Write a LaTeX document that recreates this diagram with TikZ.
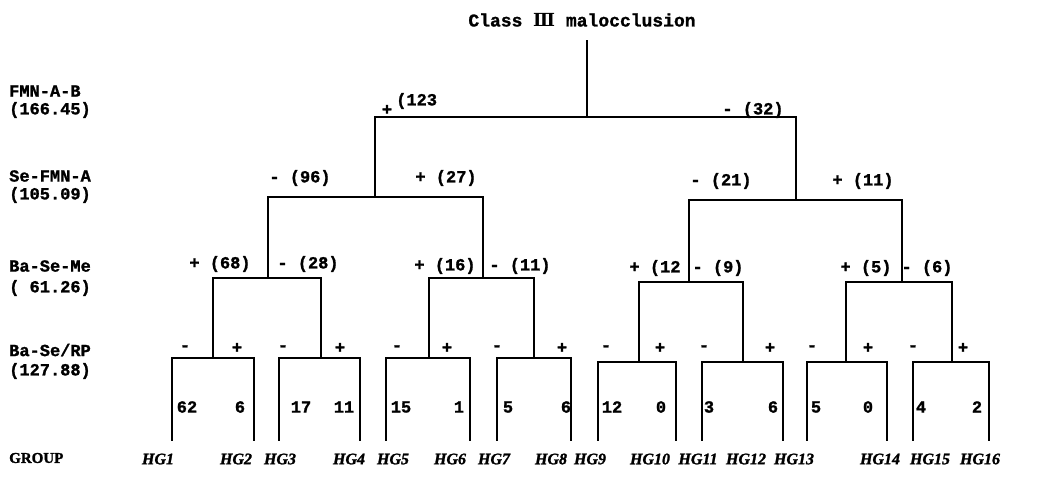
\documentclass[tikz,border=0pt]{standalone}
\usepackage{fontspec}
\newfontfamily\lmono[BoldFeatures={FakeBold=1.2}]{Liberation Mono}
\newfontfamily\hgfont[BoldItalicFeatures={FakeBold=1.5},BoldFeatures={FakeBold=1.5}]{Liberation Serif}
\newfontfamily\djs{DejaVu Serif}
\tikzset{
  br/.style={line width=1.6pt, line cap=rect},
  lab/.style={font=\lmono\bfseries\fontsize{17}{17}\selectfont, inner sep=0pt},
  ttl/.style={font=\lmono\bfseries\fontsize{18}{18}\selectfont, inner sep=0pt},
  side/.style={font=\lmono\bfseries\fontsize{17}{17}\selectfont, inner sep=0pt, anchor=west},
  hg/.style={font=\hgfont\bfseries\itshape\fontsize{16}{16}\selectfont, inner sep=0pt},
  grp/.style={font=\hgfont\bfseries\fontsize{15}{15}\selectfont, inner sep=0pt, anchor=west},
}
\begin{document}
\begin{tikzpicture}[x=1pt,y=-1pt]
\useasboundingbox (0,0) rectangle (1038,477);
\fill[white] (0,0) rectangle (1038,477);
% title
\node[ttl] (title) at (582,20) {Class {\djs\bfseries Ⅲ} malocclusion};
% junction coordinates
\coordinate (r0) at (587,41);
\coordinate (r) at (587,117);
\coordinate (L) at (375,117); \coordinate (R) at (796,117);
\coordinate (La) at (268,197); \coordinate (Lm) at (375,197); \coordinate (Lb) at (483,197);
\coordinate (Ra) at (689,200); \coordinate (Rm) at (796,200); \coordinate (Rb) at (902,200);
% level 3
\coordinate (A) at (268,278); \coordinate (Aa) at (213,278); \coordinate (Ab) at (321,278);
\coordinate (B) at (483,278); \coordinate (Ba) at (429,278); \coordinate (Bb) at (534,278);
\coordinate (C) at (689,282); \coordinate (Ca) at (639,282); \coordinate (Cb) at (743,282);
\coordinate (D) at (902,282); \coordinate (Da) at (846,282); \coordinate (Db) at (952,282);
\draw[br] (r0) -- (r);
\draw[br] (L) -- (R);
\draw[br] (L) -- (Lm); \draw[br] (R) -- (Rm);
\draw[br] (La) -- (Lb); \draw[br] (Ra) -- (Rb);
\draw[br] (La) -- (A); \draw[br] (Lb) -- (B);
\draw[br] (Ra) -- (C); \draw[br] (Rb) -- (D);
\draw[br] (Aa) -- (Ab); \draw[br] (Ba) -- (Bb);
\draw[br] (Ca) -- (Cb); \draw[br] (Da) -- (Db);
% level 4 brackets
\foreach \p/\l/\r/\y in {Aa/172/254/358, Ab/279/360/358, Ba/386/470/358, Bb/497/571/358,
                        Ca/598/676/362, Cb/702/783/362, Da/807/887/362, Db/913/989/362}{
  \path (\p) coordinate (top\p);
  \coordinate (lt\p) at (\l,\y); \coordinate (rt\p) at (\r,\y);
  \coordinate (lb\p) at (\l,440); \coordinate (rb\p) at (\r,440);
  \draw[br] (top\p) |- (lt\p);
  \draw[br] (lb\p) -- (lt\p) -- (rt\p) -- (rb\p);
}
% branch labels
\node[lab] (p123) at (387,110) {+};
\node[lab,anchor=west] (n123) at (396,101) {(123};
\node[lab] (n32) at (753,110) {- (32)};
\node[lab] (n96) at (300,178) {- (96)};
\node[lab] (n27) at (446,178) {+ (27)};
\node[lab] (n21) at (721,181) {- (21)};
\node[lab] (n11) at (863,181) {+ (11)};
\node[lab] (n68) at (220,264) {+ (68)};
\node[lab] (n28) at (308,264) {- (28)};
\node[lab] (n16) at (445,266) {+ (16)};
\node[lab] (n11b) at (520,266) {- (11)};
\node[lab] (n12) at (655,268) {+ (12};
\node[lab] (n9) at (718,268) {- (9)};
\node[lab] (n5) at (866,268) {+ (5)};
\node[lab] (n6) at (927,268) {- (6)};
% level 4 signs
\foreach \x/\s [count=\i] in {185/-,237/+,283/-,340/+,397/-,447/+,497/-,562/+,606/-,660/+,704/-,770/+,812/-,868/+,913/-,963/+}{
  \node[lab] (s\i) at (\x,348) {\s};
}
% leaf counts
\foreach \x/\t [count=\i] in {187/62,240/6,301/17,344/11,401/15,459/1,508/5,566/6,612/12,661/0,709/3,773/6,816/5,868/0,921/4,977/2}{
  \node[lab] (c\i) at (\x,407) {\t};
}
% group labels
\foreach \x [count=\i] in {158,236,280,349,393,450,494,551,590,650,698,746,794,880,930,980}{
  \node[hg] (hg\i) at (\x,459) {HG\i};
}
% side labels
\node[side] (f1) at (9,91) {FMN-A-B};
\node[side] (f1v) at (9,110) {(166.45)};
\node[side] (f2) at (9,176) {Se-FMN-A};
\node[side] (f2v) at (9,195) {(105.09)};
\node[side] (f3) at (9,266) {Ba-Se-Me};
\node[side] (f3v) at (9,288) {(~61.26)};
\node[side] (f4) at (9,350) {Ba-Se/RP};
\node[side] (f4v) at (9,371) {(127.88)};
\node[grp] (grp) at (9,458) {GROUP};
\end{tikzpicture}
\end{document}
